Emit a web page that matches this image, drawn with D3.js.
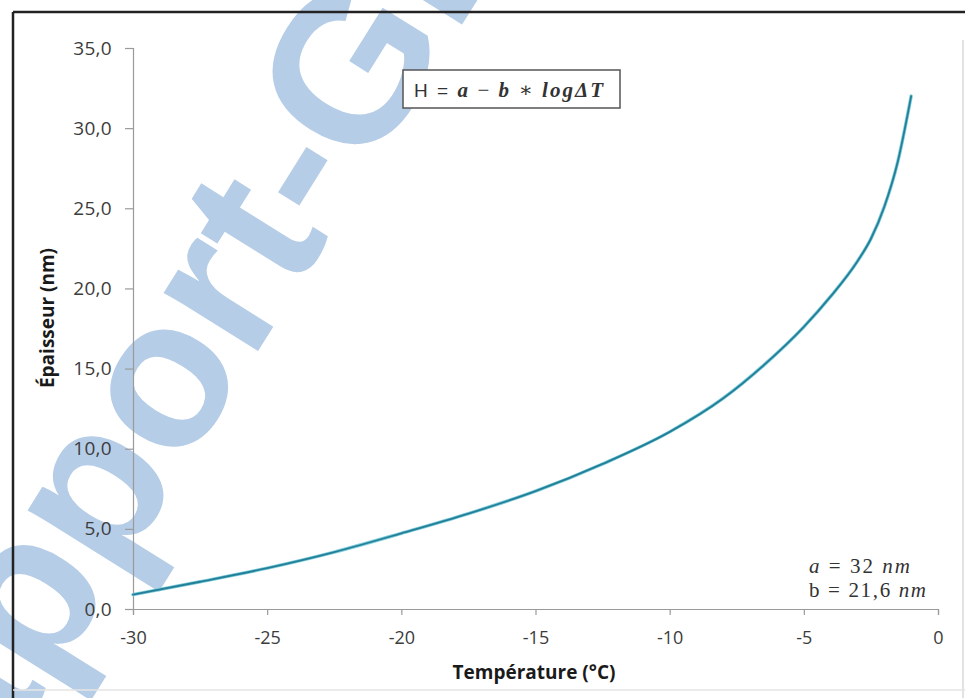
<!DOCTYPE html>
<html>
<head>
<meta charset="utf-8">
<script src="https://cdn.jsdelivr.net/npm/d3@7"></script>
<style>
  html, body { margin: 0; padding: 0; background: #fff; }
  svg { display: block; }
</style>
</head>
<body>
<svg id="chart" width="965" height="698"></svg>
<script>
// Temperature (°C) and layer thickness (nm)
const temperature = [-30, -27.5, -25, -22.5, -20, -17.5, -15, -12.5, -10, -8, -6.5, -5, -4, -3, -2.5, -2, -1.5, -1];
const thickness   = [0.9, 1.7, 2.55, 3.55, 4.72, 5.95, 7.35, 9.05, 11.05, 13.15, 15.2, 17.6, 19.5, 21.7, 23.1, 25.1, 27.9, 32.0];

const xTicks = [-30, -25, -20, -15, -10, -5, 0];
const yTicks = [0, 5, 10, 15, 20, 25, 30, 35];

const xTitle = "Température (°C)";
const yTitle = "Épaisseur (nm)";

const svg = d3.select("#chart");

// Faint "Rapport-Gratuit" watermark behind the chart
svg.append("g")
  .attr("transform", "translate(170,388) rotate(-58)")
  .append("text")
  .attr("x", -590)
  .attr("y", 55)
  .attr("font-family", "Liberation Sans, Arial, sans-serif")
  .attr("font-weight", "bold")
  .attr("font-size", 210)
  .attr("fill", "#b6cde7")
  .text("Rapport-Gratuit");

// Frame of the chart area
svg.append("line").attr("x1", 13).attr("x2", 965).attr("y1", 12).attr("y2", 12)
  .attr("stroke", "#222").attr("stroke-width", 2.5);
svg.append("line").attr("x1", 13).attr("x2", 13).attr("y1", 12).attr("y2", 698)
  .attr("stroke", "#222").attr("stroke-width", 2.5);
svg.append("line").attr("x1", 963).attr("x2", 963).attr("y1", 40).attr("y2", 698)
  .attr("stroke", "#d8d8d8").attr("stroke-width", 1.5);
svg.append("line").attr("x1", 13).attr("x2", 965).attr("y1", 690).attr("y2", 690)
  .attr("stroke", "#e4e4e4").attr("stroke-width", 1.5);

const x = d3.scaleLinear().domain([-30, 0]).range([133, 938]);
const y = d3.scaleLinear().domain([0, 35]).range([609, 48]);

const fmtY = v => d3.format(".1f")(v).replace(".", ",");
const fmtX = v => String(v);

// Y axis
const yAxis = svg.append("g")
  .attr("transform", "translate(133,0)")
  .call(d3.axisLeft(y).tickValues(yTicks).tickFormat(fmtY).tickSize(8).tickPadding(13));
yAxis.select(".domain").attr("stroke", "#9a9a9a").attr("stroke-width", 1.2);
yAxis.selectAll(".tick line").attr("stroke", "#9a9a9a").attr("stroke-width", 1.2);
yAxis.selectAll(".tick text")
  .attr("font-family", "Open Sans, sans-serif")
  .attr("font-size", 19)
  .attr("letter-spacing", 0.3)
  .attr("fill", "#3c3c3c");

// X axis
const xAxis = svg.append("g")
  .attr("transform", "translate(0,609)")
  .call(d3.axisBottom(x).tickValues(xTicks).tickFormat(fmtX).tickSize(6).tickPadding(16));
xAxis.select(".domain").attr("stroke", "#9a9a9a").attr("stroke-width", 1.2);
xAxis.selectAll(".tick line").attr("stroke", "#9a9a9a").attr("stroke-width", 1.2);
xAxis.selectAll(".tick text")
  .attr("font-family", "Open Sans, sans-serif")
  .attr("font-size", 18)
  .attr("fill", "#3c3c3c");

// Axis titles
svg.append("text")
  .attr("x", 534).attr("y", 679)
  .attr("text-anchor", "middle")
  .attr("font-family", "Open Sans, sans-serif")
  .attr("font-weight", "bold")
  .attr("font-size", 19)
  .attr("fill", "#1a1a1a")
  .text(xTitle);

svg.append("text")
  .attr("transform", "translate(54,318) rotate(-90)")
  .attr("text-anchor", "middle")
  .attr("font-family", "Open Sans, sans-serif")
  .attr("font-weight", "bold")
  .attr("font-size", 19)
  .attr("fill", "#1a1a1a")
  .text(yTitle);

// Thickness curve
const pts = temperature.map((t, i) => [t, thickness[i]]);
const line = d3.line()
  .x(d => x(d[0]))
  .y(d => y(d[1]))
  .curve(d3.curveMonotoneX);

svg.append("path")
  .datum(pts)
  .attr("d", line)
  .attr("fill", "none")
  .attr("stroke", "#7ccbdc")
  .attr("stroke-width", 3.4)
  .attr("stroke-linecap", "round");
svg.append("path")
  .datum(pts)
  .attr("d", line)
  .attr("fill", "none")
  .attr("stroke", "#237f96")
  .attr("stroke-width", 1.8)
  .attr("stroke-linecap", "round");

// Equation box
svg.append("rect")
  .attr("x", 403).attr("y", 70).attr("width", 217).attr("height", 38)
  .attr("fill", "#fff").attr("stroke", "#555").attr("stroke-width", 1.5);

const eq = svg.append("text")
  .attr("x", 414).attr("y", 97)
  .attr("font-family", "Liberation Serif, DejaVu Serif, serif")
  .attr("font-size", 21)
  .attr("fill", "#333")
  .attr("textLength", 189)
  .attr("lengthAdjust", "spacing");
eq.append("tspan").attr("font-family", "Liberation Sans, sans-serif").attr("font-size", 19).text("H = ");
eq.append("tspan").attr("font-style", "italic").attr("font-weight", "bold").text("a");
eq.append("tspan").text(" − ");
eq.append("tspan").attr("font-style", "italic").attr("font-weight", "bold").text("b");
eq.append("tspan").text(" ∗ ");
eq.append("tspan").attr("font-style", "italic").attr("font-weight", "bold").text("logΔT");

// Parameter values
const p1 = svg.append("text")
  .attr("x", 809).attr("y", 573)
  .attr("font-family", "Liberation Serif, DejaVu Serif, serif")
  .attr("font-size", 21)
  .attr("fill", "#333")
  .attr("textLength", 101)
  .attr("lengthAdjust", "spacing");
p1.append("tspan").attr("font-style", "italic").text("a");
p1.append("tspan").text(" = 32 ");
p1.append("tspan").attr("font-style", "italic").text("nm");

const p2 = svg.append("text")
  .attr("x", 809).attr("y", 597)
  .attr("font-family", "Liberation Serif, DejaVu Serif, serif")
  .attr("font-size", 21)
  .attr("fill", "#333")
  .attr("textLength", 117)
  .attr("lengthAdjust", "spacing");
p2.append("tspan").text("b = 21,6 ");
p2.append("tspan").attr("font-style", "italic").text("nm");
</script>
</body>
</html>
